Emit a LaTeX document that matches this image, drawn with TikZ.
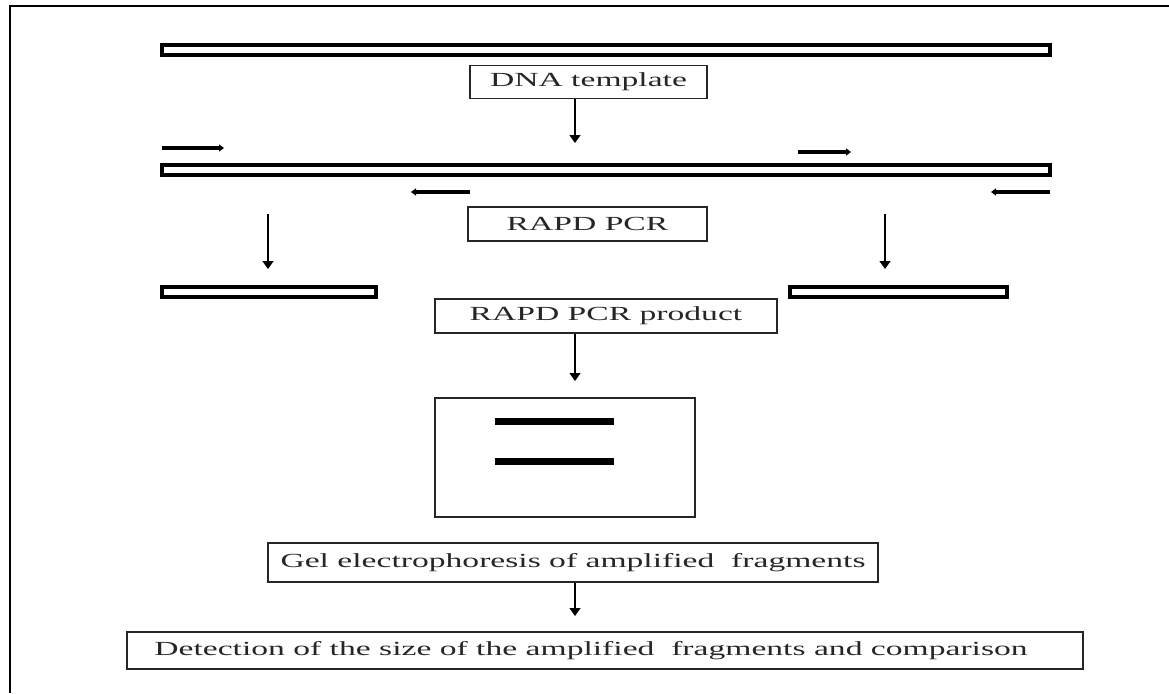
\documentclass[tikz,border=0pt]{standalone}
\usepackage{fontspec}
\setmainfont{Liberation Serif}
\usetikzlibrary{arrows.meta}
\tikzset{
  lbl/.style={draw=black!85, line width=1.3pt, rectangle, inner sep=0pt, text=black!85,
     font=\fontsize{20}{24}\selectfont},
  bar/.style={draw=black, line width=3.6pt},
  flow/.style={draw=black, line width=1.4pt, -{Triangle[width=11pt,length=8pt]}},
  primer/.style={draw=black, line width=3.2pt, -{Triangle[width=7pt,length=5pt]}},
  band/.style={draw=black, line width=7pt},
}
\newcommand{\wx}[1]{\scalebox{1.68}[1]{#1}}
\begin{document}
\begin{tikzpicture}[x=1pt,y=-1pt]
\useasboundingbox (0,0) rectangle (1169,693);
% outer frame (left and top)
\draw[line width=2pt] (10,693) -- (10,6) coordinate (fc) -- (1169,6);
% template bar
\draw[bar] (161.8,44.8) rectangle (1050.2,55.2);
\node (bar1) at (606,50) {};
\node[lbl, minimum width=237pt, minimum height=33pt] (dna) at (588.5,82) {\wx{DNA template}};
% second bar with primers
\draw[bar] (161.8,164.8) rectangle (1050.2,175.2);
\coordinate (a1) at (575,143);
\draw[flow] (dna.south -| a1) -- (a1);
\coordinate (p1s) at (162,148); \coordinate (p1e) at (224,148);
\coordinate (p2s) at (798,152); \coordinate (p2e) at (851,152);
\coordinate (p3s) at (470,192); \coordinate (p3e) at (411,192);
\coordinate (p4s) at (1050,192); \coordinate (p4e) at (991,192);
\draw[primer] (p1s) -- (p1e);
\draw[primer] (p2s) -- (p2e);
\draw[primer] (p3s) -- (p3e);
\draw[primer] (p4s) -- (p4e);
\node[lbl, minimum width=239pt, minimum height=34pt] (rapd) at (587.5,224) {\wx{RAPD PCR}};
% arrows to products
\coordinate (l1) at (268,214); \coordinate (l2) at (268,269);
\coordinate (r1) at (885,214); \coordinate (r2) at (885,269);
\draw[flow] (l1) -- (l2);
\draw[flow] (r1) -- (r2);
\draw[bar] (161.8,286.8) rectangle (376.2,297.2);
\draw[bar] (789.8,286.8) rectangle (1007.2,297.2);
\node[lbl, minimum width=342pt, minimum height=34pt] (prod) at (606,316) {\wx{RAPD PCR product}};
% gel
\coordinate (a2) at (575,381);
\draw[flow] (prod.south -| a2) -- (a2);
\node[lbl, minimum width=260pt, minimum height=119pt] (gel) at (565,457.5) {};
\draw[band] (495,421.5) -- (614,421.5);
\draw[band] (495,461.5) -- (614,461.5);
\node[lbl, minimum width=610pt, minimum height=39pt] (ge) at (573,562.5) {\wx{Gel electrophoresis of amplified~ fragments}};
\coordinate (a3) at (575,616);
\draw[flow] (ge.south -| a3) -- (a3);
\node[lbl, minimum width=956pt, minimum height=37pt] (det) at (605,650.5) {\hspace*{-28pt}\wx{Detection of the size of the amplified~ fragments and comparison}};
\end{tikzpicture}
\end{document}
